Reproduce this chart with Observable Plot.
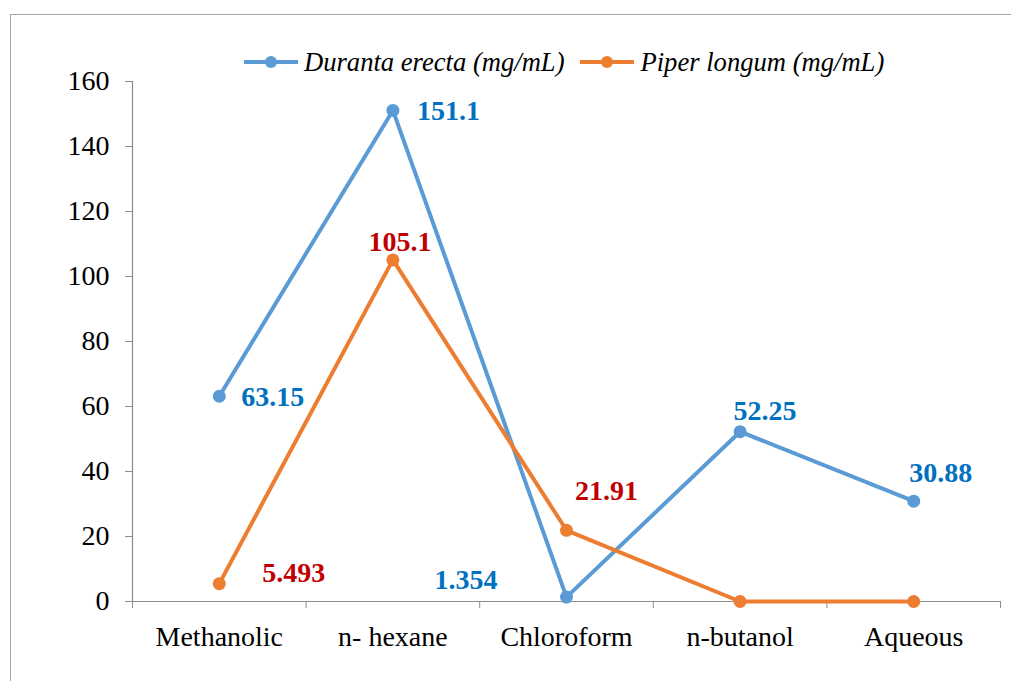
<!DOCTYPE html>
<html>
<head>
<meta charset="utf-8">
<script src="https://cdn.jsdelivr.net/npm/d3@7"></script>
<script src="https://cdn.jsdelivr.net/npm/@observablehq/plot@0.6"></script>
<style>
  html, body { margin: 0; padding: 0; background: #fff; }
  body { width: 1011px; height: 681px; position: relative; overflow: hidden; font-family: "Liberation Serif", "Times New Roman", serif; }
  #frame { position: absolute; left: 10px; top: 14px; width: 1001px; height: 667px; border-top: 1.5px solid #a6a6a6; border-left: 1.5px solid #a6a6a6; box-sizing: border-box; pointer-events: none; }
  #legend { position: relative; height: 61px; box-sizing: border-box; padding-top: 48px; padding-left: 243px; display: flex; align-items: flex-start; line-height: 28px; font-style: italic; font-size: 26.6px; color: #000; }
  #legend .item { display: flex; align-items: center; height: 28px; }
  #legend svg { margin-right: 5px; }
  #chart { position: relative; }
</style>
</head>
<body>
<div id="frame"></div>
<div id="legend"></div>
<div id="chart"></div>
<script>
// ---- data ----
const categories = ["Methanolic", "n- hexane", "Chloroform", "n-butanol", "Aqueous"];
const seriesNames = ["Duranta erecta (mg/mL)", "Piper longum (mg/mL)"];
const durantaValues = [63.15, 151.1, 1.354, 52.25, 30.88];
const piperValues = [5.493, 105.1, 21.91, 0, 0];
const durantaLabels = ["63.15", "151.1", "1.354", "52.25", "30.88"];
const piperLabels = ["5.493", "105.1", "21.91", "", ""];
const yTicks = [0, 20, 40, 60, 80, 100, 120, 140, 160];

// ---- styles / layout ----
const lineColors = ["#5B9BD5", "#ED7D31"];
const labelColors = ["#0070C0", "#C00000"];
const labelPlacement = [
  [{dx: 22, dy: 1, a: "start"}, {dx: 24, dy: 1, a: "start"}, {dx: -69, dy: -17, a: "end"}, {dx: 25, dy: -21, a: "middle"}, {dx: 27, dy: -28, a: "middle"}],
  [{dx: 43, dy: -11, a: "start"}, {dx: 7, dy: -18, a: "middle"}, {dx: 40, dy: -39, a: "middle"}, null, null]
];

const seriesValues = [durantaValues, piperValues];
const seriesLabels = [durantaLabels, piperLabels];
const rows = [];
seriesValues.forEach((vals, s) => vals.forEach((v, i) => rows.push({series: s, name: seriesNames[s], cat: i + 0.5, value: v, label: seriesLabels[s][i], idx: i})));

// legend
const legend = document.getElementById("legend");
seriesNames.forEach((name, s) => {
  const item = document.createElement("div");
  item.className = "item";
  if (s > 0) item.style.marginLeft = "15px";
  item.innerHTML = `<svg width="56" height="16"><line x1="1" y1="8" x2="55" y2="8" stroke="${lineColors[s]}" stroke-width="4"/><circle cx="28" cy="8" r="6" fill="${lineColors[s]}"/></svg><span>${name}</span>`;
  legend.appendChild(item);
});

const font = "Liberation Serif, Times New Roman, serif";
const axisGray = "#8c8c8c";

const marks = [
  Plot.ruleY([0], {stroke: axisGray, strokeWidth: 1.2}),
  Plot.ruleX([0], {stroke: axisGray, strokeWidth: 1.2}),
  Plot.axisY({ticks: yTicks, tickSize: 7, tickPadding: 16, stroke: axisGray, fill: "black", fontSize: 28, fontFamily: font, tickFormat: d => String(d), label: null}),
  Plot.axisX({ticks: [0, 1, 2, 3, 4, 5], tickSize: 7, tickFormat: () => "", stroke: axisGray, label: null}),
  Plot.axisX({ticks: categories.map((c, i) => i + 0.5), tickSize: 0, tickPadding: 25, tickFormat: d => categories[Math.round(d - 0.5)], fill: "black", fontSize: 28, fontFamily: font, label: null})
];

[0, 1].forEach(s => {
  const data = rows.filter(r => r.series === s);
  marks.push(Plot.line(data, {x: "cat", y: "value", stroke: lineColors[s], strokeWidth: 4, strokeLinejoin: "round"}));
  marks.push(Plot.dot(data, {x: "cat", y: "value", r: 6.5, fill: lineColors[s], stroke: "none"}));
  data.forEach((r, i) => {
    const p = labelPlacement[s][i];
    if (!p || !r.label) return;
    marks.push(Plot.text([r], {x: "cat", y: "value", text: "label", dx: p.dx, dy: p.dy, textAnchor: p.a, fill: labelColors[s], fontWeight: "bold", fontSize: 28, fontFamily: font}));
  });
});

const plot = Plot.plot({
  width: 1011,
  height: 620,
  marginTop: 20,
  marginBottom: 80,
  marginLeft: 132,
  marginRight: 11,
  style: {fontFamily: font, fontSize: "28px", background: "transparent", color: "black", overflow: "visible"},
  x: {type: "linear", domain: [0, 5]},
  y: {type: "linear", domain: [0, 160]},
  marks
});
document.getElementById("chart").appendChild(plot);
</script>
</body>
</html>
